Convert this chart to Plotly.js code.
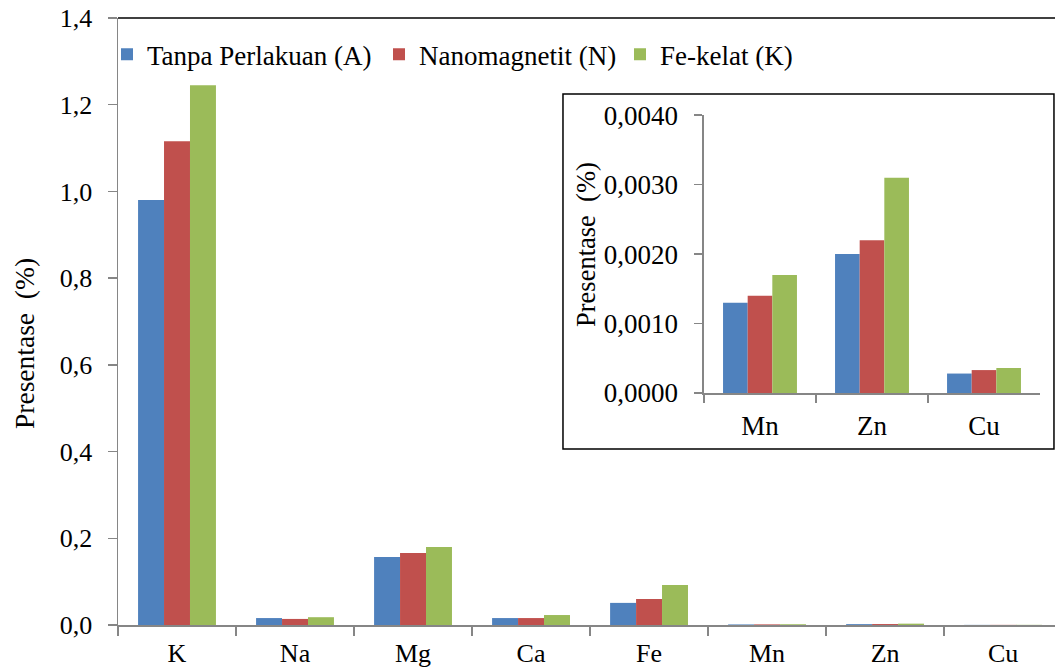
<!DOCTYPE html>
<html><head><meta charset="utf-8">
<script src="https://cdn.plot.ly/plotly-3.0.1.min.js"></script>
<style>html,body{margin:0;padding:0;background:#fff}#chart{width:1055px;height:667px}</style>
</head><body><div id="chart"></div>
<script>
const categories = ["K","Na","Mg","Ca","Fe","Mn","Zn","Cu"];
const seriesNames = ["Tanpa Perlakuan (A)","Nanomagnetit (N)","Fe-kelat (K)"];
const seriesColors = ["#4F81BD","#C0504D","#9BBB59"];
const valuesA = [0.980, 0.016, 0.157, 0.016, 0.051, 0.0013, 0.0020, 0.00028];
const valuesN = [1.116, 0.014, 0.166, 0.016, 0.060, 0.0014, 0.0022, 0.00033];
const valuesK = [1.245, 0.018, 0.180, 0.023, 0.092, 0.0017, 0.0031, 0.00036];
const insetCategories = ["Mn","Zn","Cu"];
const insetA = [0.0013, 0.0020, 0.00028];
const insetN = [0.0014, 0.0022, 0.00033];
const insetK = [0.0017, 0.0031, 0.00036];
const mainTicks = [0,0.2,0.4,0.6,0.8,1.0,1.2,1.4];
const insetTicks = [0,0.001,0.002,0.003,0.004];
const yTitle = "Presentase  (%)";

const FONT = "Liberation Serif";
const mainVals = [valuesA, valuesN, valuesK];
const insetVals = [insetA, insetN, insetK];
const legendIds = ["legend","legend2","legend3"];
const traces = [];
for (let i = 0; i < 3; i++) {
  traces.push({type:"bar", x:categories, y:mainVals[i], name:seriesNames[i],
    marker:{color:seriesColors[i]}, xaxis:"x", yaxis:"y", legend:legendIds[i]});
}
for (let i = 0; i < 3; i++) {
  traces.push({type:"bar", x:insetCategories, y:insetVals[i], name:seriesNames[i],
    marker:{color:seriesColors[i]}, xaxis:"x2", yaxis:"y2", showlegend:false});
}
const axisGray = "#868686";
function leg(xpx) {
  return {orientation:"h", x:(xpx-118)/937, y:0.98, xanchor:"left", yanchor:"top",
    font:{family:FONT, size:27, color:"#000"}, bgcolor:"rgba(0,0,0,0)", itemwidth:30};
}
const layout = {
  width:1055, height:667,
  margin:{l:118, r:0, t:18, b:42, pad:0},
  paper_bgcolor:"#fff", plot_bgcolor:"rgba(0,0,0,0)",
  separators:",.",
  font:{family:FONT, size:26, color:"#000"},
  barmode:"group", bargap:0.34, bargroupgap:0,
  showlegend:true,
  legend:leg(107), legend2:leg(379), legend3:leg(620),
  xaxis:{domain:[0,1], range:[-0.5, 7.44], type:"category", showline:true, linecolor:axisGray, linewidth:1.5,
    ticks:"outside", tickson:"boundaries", ticklen:9, tickcolor:axisGray, tickwidth:1.5,
    showgrid:false, zeroline:false, tickfont:{family:FONT,size:26}, ticklabelstandoff:4, anchor:"y"},
  yaxis:{domain:[0,1], range:[0,1.4], tickvals:mainTicks, tickformat:".1f", showline:true, linecolor:axisGray, linewidth:1.5,
    ticks:"outside", ticklen:9, tickcolor:axisGray, tickwidth:1.5, showgrid:false, zeroline:false,
    tickfont:{family:FONT,size:26}, ticklabelstandoff:10, anchor:"x"},
  xaxis2:{domain:[0.6254,0.984], type:"category", range:[-0.5,2.5], anchor:"y2", showline:true, linecolor:axisGray, linewidth:1.5,
    ticks:"outside", tickson:"boundaries", ticklen:8, tickcolor:axisGray, tickwidth:1.5, showgrid:false, zeroline:false,
    tickfont:{family:FONT,size:27}, ticklabelstandoff:8},
  yaxis2:{domain:[0.3822,0.840], range:[0,0.004], tickvals:insetTicks, tickformat:".4f", anchor:"x2", showline:true,
    linecolor:axisGray, linewidth:1.5, ticks:"outside", ticklen:8, tickcolor:axisGray, tickwidth:1.5, showgrid:false, zeroline:false,
    tickfont:{family:FONT,size:27}, ticklabelstandoff:11},
  shapes:[
    {type:"rect", xref:"paper", yref:"paper", x0:0.4749, x1:0.9989, y0:0.29, y1:0.8748, layer:"below",
      line:{color:"#000", width:1.5}, fillcolor:"#fff"},
    {type:"line", xref:"paper", yref:"paper", x0:0, x1:1, y0:1, y1:1, line:{color:"#000", width:1.5}}
  ],
  annotations:[
    {text:yTitle, xref:"paper", yref:"paper", x:(25-118)/937, y:(625-344)/607, textangle:-90, showarrow:false,
      xanchor:"center", yanchor:"middle", font:{family:FONT,size:27.5,color:"#000"}},
    {text:yTitle, xref:"paper", yref:"paper", x:(586-118)/937, y:(625-245)/607, textangle:-90, showarrow:false,
      xanchor:"center", yanchor:"middle", font:{family:FONT,size:26.5,color:"#000"}}
  ]
};
Plotly.newPlot("chart", traces, layout, {displayModeBar:false, staticPlot:true});
</script></body></html>
